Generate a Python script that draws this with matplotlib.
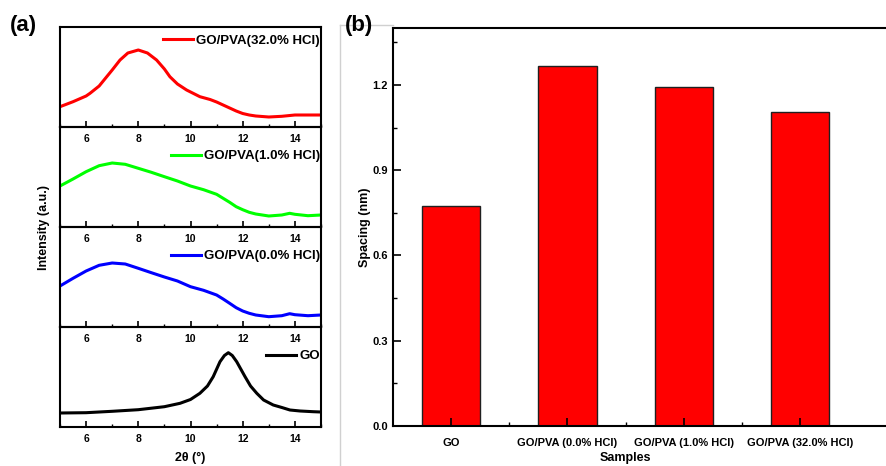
import matplotlib
matplotlib.use("Agg")
import matplotlib.pyplot as plt
from matplotlib.lines import Line2D
from matplotlib.ticker import MultipleLocator, FormatStrFormatter

plt.rcParams['font.family'] = ['Liberation Sans', 'DejaVu Sans']
plt.rcParams['font.weight'] = 'bold'

# ---------------- Data: XRD patterns (2theta, intensity a.u.) ----------------
two_theta_hcl32 = [5.0, 5.5, 6.0, 6.15, 6.5, 6.79, 7.0, 7.3, 7.6, 8.0, 8.35, 8.7,
                   9.0, 9.21, 9.5, 9.85, 10.36, 10.75, 11.0, 11.25, 11.5, 11.75,
                   12.0, 12.25, 12.5, 13.0, 13.5, 14.0, 14.5, 15.0]
int_hcl32 = [20.3, 25.3, 31.0, 33.7, 41.0, 50.3, 57.0, 67.0, 74.0, 77.0, 74.0, 67.0,
             58.0, 50.3, 43.0, 37.0, 30.3, 27.5, 25.0, 22.0, 19.0, 16.0,
             13.5, 12.0, 11.0, 10.0, 10.7, 12.0, 12.0, 12.0]

two_theta_hcl1 = [5, 5.5, 6, 6.5, 7, 7.5, 8, 8.5, 9, 9.5, 10, 10.5, 11, 11.25, 11.5,
                  11.75, 12, 12.25, 12.5, 13, 13.5, 13.8, 14, 14.5, 15]
int_hcl1 = [41.0, 48.0, 55.3, 61.3, 64.0, 62.7, 58.7, 54.7, 50.3, 46.0, 41.0,
            37.3, 32.7, 28.7, 24.7, 20.3, 17.3, 14.7, 13.0, 11.0, 12.0, 13.7,
            12.7, 11.3, 12.0]

two_theta_hcl0 = [5, 5.5, 6, 6.5, 7, 7.5, 8, 8.5, 9, 9.5, 10, 10.5, 11, 11.25, 11.5,
                  11.75, 12, 12.25, 12.5, 13, 13.5, 13.8, 14, 14.5, 15]
int_hcl0 = [41.0, 48.7, 56.0, 61.7, 64.0, 63.0, 58.7, 54.3, 50.0, 46.0, 40.3,
            36.7, 32.0, 28.0, 23.7, 19.3, 16.0, 13.7, 12.0, 10.3, 11.3, 13.3,
            12.3, 11.3, 12.0]

two_theta_go = [5.0, 6.0, 7.0, 8.0, 9.0, 9.6, 10.0, 10.36, 10.65, 10.87, 11.13, 11.3,
                11.45, 11.6, 11.77, 12.09, 12.3, 12.54, 12.8, 13.17, 13.5, 13.81,
                14.2, 14.7, 15.0]
int_go = [14.0, 14.3, 15.7, 17.3, 20.3, 23.7, 27.5, 33.7, 41.0, 50.3, 65.3, 71.5,
          74.3, 71.5, 65.3, 50.3, 41.0, 33.7, 27.0, 22.0, 19.5, 17.0,
          16.0, 15.3, 15.0]

xrd_labels = ['GO/PVA(32.0% HCl)', 'GO/PVA(1.0% HCl)', 'GO/PVA(0.0% HCl)', 'GO']
xrd_colors = ['#ff0000', '#00ff00', '#0000ff', '#000000']

# ---------------- Data: interlayer spacing ----------------
samples = ['GO', 'GO/PVA (0.0% HCl)', 'GO/PVA (1.0% HCl)', 'GO/PVA (32.0% HCl)']
spacing = [0.773, 1.265, 1.194, 1.104]

W, H = 887, 466
fig = plt.figure(figsize=(W / 100, H / 100), dpi=100)


def fx(px):
    return px / W


def fy(py):
    return 1 - py / H


# ---------------- Panel (a): stacked XRD ----------------
series = [(two_theta_hcl32, int_hcl32), (two_theta_hcl1, int_hcl1),
          (two_theta_hcl0, int_hcl0), (two_theta_go, int_go)]
tops = [27, 127, 227, 327]
legend_y = [0.86, 0.71, 0.71, 0.71]
left_px, right_px = 60, 321
for i, ((xs, ys), lab, col) in enumerate(zip(series, xrd_labels, xrd_colors)):
    top = tops[i]
    ax = fig.add_axes([fx(left_px), fy(top + 100), fx(right_px - left_px), 100 / H])
    ax.set_facecolor('none')
    ax.plot(xs, ys, color=col, lw=2.2, label=lab, solid_joinstyle='round')
    ax.set_xlim(5, 15)
    ax.set_ylim(0, 100)
    ax.set_yticks([])
    ax.xaxis.set_major_locator(MultipleLocator(2))
    ax.xaxis.set_minor_locator(MultipleLocator(1))
    ax.tick_params(axis='x', which='major', direction='in', length=4, width=1.2,
                   labelsize=7.5, pad=5, top=False)
    ax.tick_params(axis='x', which='minor', direction='in', length=2, width=1.0, top=False)
    for lbl in ax.get_xticklabels():
        lbl.set_fontweight('bold')
    for s in ax.spines.values():
        s.set_linewidth(1.5)
    ax.legend(loc='center right', bbox_to_anchor=(1.0, legend_y[i]), frameon=False,
              handlelength=2.3, handletextpad=0.2, borderaxespad=0.0, borderpad=0.1,
              prop={'weight': 'bold', 'size': 9.5})

fig.text(fx(23), fy(25), '(a)', fontsize=16, fontweight='bold', ha='center', va='center')
fig.text(fx(44), fy(227), 'Intensity (a.u.)', rotation=90, fontsize=9,
         fontweight='bold', ha='center', va='center')
fig.text(fx(190), fy(458), '2θ (°)', fontsize=9, fontweight='bold',
         ha='center', va='center')

# ---------------- Panel (b): bar chart ----------------
unit_px = 116.3
xl, xr = 0.5, 4.9
axw_px = (xr - xl) * unit_px
axh_px = 426 - 28
axb = fig.add_axes([fx(393), fy(426), axw_px / W, axh_px / H])
pos = list(range(1, len(samples) + 1))
axb.bar(pos, spacing, width=0.5, color='#ff0000', edgecolor='#202020', linewidth=1.0)
axb.set_xlim(xl, xr)
axb.set_ylim(0, 1.4)
axb.set_xticks(pos)
axb.set_xticklabels(samples)
axb.set_xticks([1.5, 2.5, 3.5], minor=True)
axb.yaxis.set_major_locator(MultipleLocator(0.3))
axb.yaxis.set_minor_locator(MultipleLocator(0.15))
axb.yaxis.set_major_formatter(FormatStrFormatter('%.1f'))
axb.tick_params(axis='both', which='major', direction='in', length=6, width=1.2,
                labelsize=8, top=False, right=False)
axb.tick_params(axis='both', which='minor', direction='in', length=3, width=1.0,
                top=False, right=False)
axb.tick_params(axis='x', which='major', pad=9)
for lbl in axb.get_xticklabels() + axb.get_yticklabels():
    lbl.set_fontweight('bold')
for s in axb.spines.values():
    s.set_linewidth(1.5)
axb.set_ylabel('Spacing (nm)', fontsize=9, fontweight='bold')
axb.yaxis.label.set_va('center')
axb.yaxis.set_label_coords((365 - 393) / axw_px, (426 - 227) / axh_px)
axb.set_xlabel('Samples', fontsize=9, fontweight='bold')
axb.xaxis.label.set_va('center')
axb.xaxis.set_label_coords((625 - 393) / axw_px, -(458 - 426) / axh_px)

fig.text(fx(359), fy(25), '(b)', fontsize=16, fontweight='bold', ha='center', va='center')
fig.add_artist(Line2D([fx(340), fx(340)], [fy(25), 0], color='#d0d0d0', lw=1.0))
fig.add_artist(Line2D([fx(340), fx(393)], [fy(25), fy(25)], color='#d0d0d0', lw=1.0))

fig.savefig('out.png', dpi=100)
